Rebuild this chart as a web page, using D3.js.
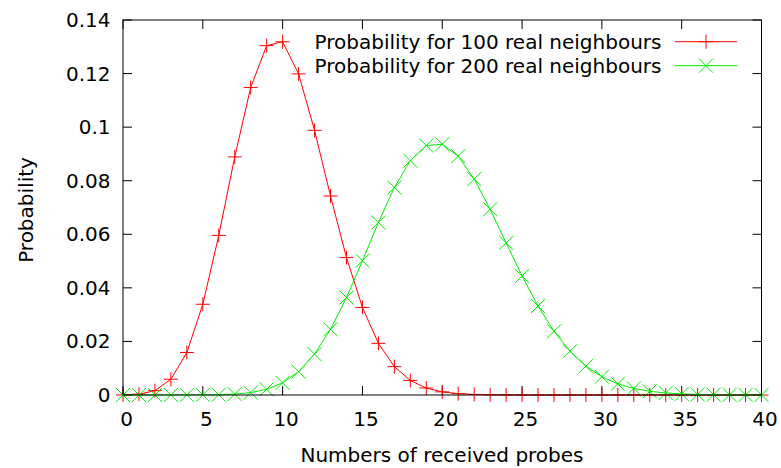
<!DOCTYPE html>
<html><head><meta charset="utf-8">
<script src="https://cdn.jsdelivr.net/npm/d3@7"></script>
<style>body{margin:0;background:#fff;} text{font-family:"DejaVu Sans",sans-serif;}</style>
</head><body><svg id="c" width="781" height="468"></svg>
<script>
const xValues = d3.range(0, 41);
const seriesNames = ["Probability for 100 real neighbours", "Probability for 200 real neighbours"];
const p100 = [0.0000266,0.000295,0.00162,0.00589,0.01587,0.03387,0.05958,0.08890,0.11482,0.13042,
  0.13187,0.11988,0.09879,0.07430,0.05130,0.03268,0.01929,0.01059,0.00543,0.00260,
  0.00117,0.000496,0.000198,0.0000748,0.0000267,0.000009,0.000003,0.000001,0,0,
  0,0,0,0,0,0,0,0,0,0,0];
const p200 = [0,0,0,0.0000013,0.000007,0.0000303,0.000109,0.000337,0.000903,0.00214,
  0.00454,0.00872,0.01526,0.02451,0.03638,0.05013,0.06440,0.07745,0.08749,0.09312,
  0.09364,0.08918,0.08062,0.06933,0.05681,0.04444,0.03323,0.02380,0.01634,0.01077,
  0.00682,0.00416,0.00244,0.00138,0.00075,0.00040,0.00020,0.0001,0.000047,0.000022,0.00001];
const xTicks = [0,5,10,15,20,25,30,35,40];
const yTicks = [0,0.02,0.04,0.06,0.08,0.1,0.12,0.14];
const yTickLabels = ["0","0.02","0.04","0.06","0.08","0.1","0.12","0.14"];
const colors = ["#ff0000", "#00ee00"];

const svg = d3.select("#c");
const L = 123, R = 761.5, T = 20, B = 395;
const x = d3.scaleLinear().domain([0,40]).range([L,R]);
const y = d3.scaleLinear().domain([0,0.14]).range([B,T]);
const fs = 20;

const tl = 9;
const g = svg.append("g").attr("stroke","#000").attr("stroke-width",1);
xTicks.forEach(t=>{
  g.append("line").attr("x1",x(t)).attr("x2",x(t)).attr("y1",B).attr("y2",B-tl);
  g.append("line").attr("x1",x(t)).attr("x2",x(t)).attr("y1",T).attr("y2",T+tl);
});
yTicks.forEach(t=>{
  g.append("line").attr("x1",L).attr("x2",L+tl).attr("y1",y(t)).attr("y2",y(t));
  g.append("line").attr("x1",R).attr("x2",R-tl).attr("y1",y(t)).attr("y2",y(t));
});
xTicks.forEach(t=>{
  svg.append("text").attr("x",x(t)+3.5).attr("y",B+30.5).attr("text-anchor","middle")
    .attr("font-size",fs).text(t);
});
yTicks.forEach((t,i)=>{
  svg.append("text").attr("x",L-12.5).attr("y",y(t)+7).attr("text-anchor","end")
    .attr("font-size",fs).text(yTickLabels[i]);
});
svg.append("text").attr("x",442).attr("y",462).attr("text-anchor","middle")
  .attr("font-size",fs).text("Numbers of received probes");
svg.append("text").attr("transform","translate(33,210) rotate(-90)").attr("text-anchor","middle")
  .attr("font-size",fs).text("Probability");

const line = d3.line().x((d,i)=>x(xValues[i])).y(d=>y(d));
const plus = (sel, cx, cy, c) => {
  sel.append("line").attr("x1",cx-7).attr("x2",cx+7).attr("y1",cy).attr("y2",cy).attr("stroke",c);
  sel.append("line").attr("x1",cx).attr("x2",cx).attr("y1",cy-7).attr("y2",cy+7).attr("stroke",c);
};
const cross = (sel, cx, cy, c) => {
  sel.append("line").attr("x1",cx-7).attr("x2",cx+7).attr("y1",cy-7).attr("y2",cy+7).attr("stroke",c);
  sel.append("line").attr("x1",cx-7).attr("x2",cx+7).attr("y1",cy+7).attr("y2",cy-7).attr("stroke",c);
};
const markers = [plus, cross];
[p100, p200].forEach((data, si)=>{
  const sg = svg.append("g");
  sg.append("path").datum(data).attr("d",line).attr("fill","none").attr("stroke",colors[si]).attr("stroke-width",1);
  data.forEach((v,i)=>markers[si](sg, x(xValues[i]), y(v), colors[si]));
  const ly = 41.7 + si*24;
  svg.append("text").attr("x",661.5).attr("y",ly+6.8).attr("text-anchor","end").attr("font-size",fs).text(seriesNames[si]);
  svg.append("line").attr("x1",675).attr("x2",737).attr("y1",ly).attr("y2",ly).attr("stroke",colors[si]);
  markers[si](svg, 706, ly, colors[si]);
});

svg.append("rect").attr("x",L).attr("y",T).attr("width",R-L).attr("height",B-T)
  .attr("fill","none").attr("stroke","#000").attr("stroke-width",1);
</script></body></html>
